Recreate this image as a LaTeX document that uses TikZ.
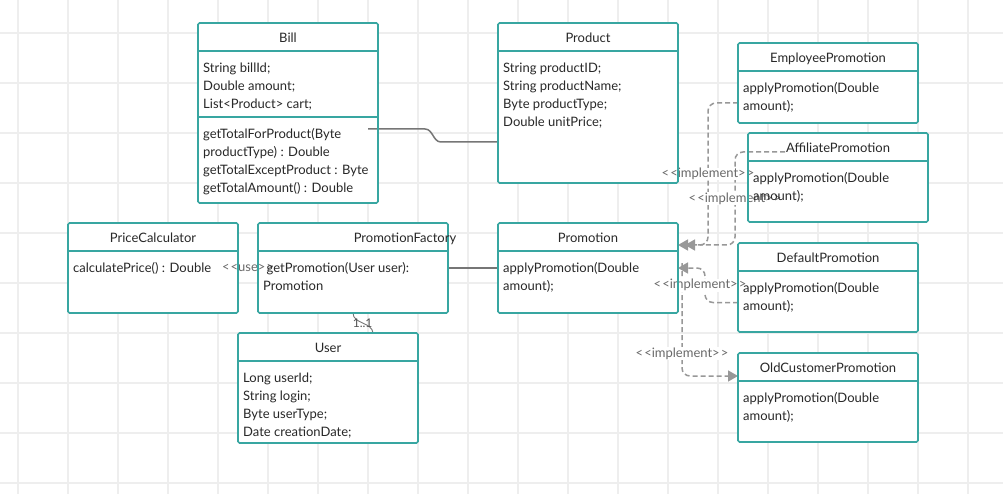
\documentclass[tikz,border=0pt]{standalone}
\usepackage{fontspec}
\setmainfont{Lato}
\usetikzlibrary{arrows.meta}
\definecolor{tl}{RGB}{56,166,161}
\definecolor{tx}{RGB}{40,40,40}
\definecolor{gg}{RGB}{238,238,238}
\definecolor{ln}{RGB}{118,118,118}
\definecolor{dl}{RGB}{152,152,152}
\definecolor{lb}{RGB}{105,105,105}
\pgfdeclarelayer{background}
\pgfdeclarelayer{edges}
\pgfsetlayers{background,edges,main}

\begin{document}
\begin{tikzpicture}[font=\fontsize{13}{18.3}\selectfont, text=tx,
  classbox/.style={rectangle, draw=tl, line width=1.6pt, rounded corners=1.5pt, anchor=north west, inner sep=0pt, outer sep=0pt},
  classline/.style={draw=tl, line width=1.6pt},
  classname/.style={inner sep=0pt, text height=9.4pt, text depth=0pt},
  members/.style={inner sep=0pt, anchor=north west, align=left},
  assoc/.style={draw=ln, line width=1.5pt},
  implement/.style={draw=dl, line width=1.5pt, dash pattern=on 5pt off 3pt, rounded corners=8pt, -{Triangle[length=10pt,width=11pt]}},
  stereo/.style={inner sep=0.5pt, fill=white, text=lb, font=\fontsize{13}{15}\selectfont},
  multlbl/.style={inner sep=0pt, text=tx!80, font=\fontsize{12}{14}\selectfont}]
\path [use as bounding box] (0pt,0pt) rectangle (1003pt,-494pt);
\begin{pgfonlayer}{background}
\fill [white] (0pt,0pt) rectangle (1003pt,-494pt);
\foreach \gx in {18,68,...,968} \draw [gg, line width=1.2pt] (\gx pt,0pt) -- (\gx pt,-494pt);
\foreach \gy in {33,83,...,483} \draw [gg, line width=1.2pt] (0pt,-\gy pt) -- (1003pt,-\gy pt);
\end{pgfonlayer}

% Bill
\node (bill) [classbox, minimum width=180pt, minimum height=180pt] at (198pt,-23pt) {};
\draw [classline] ([yshift=-28pt]bill.north west) -- ([yshift=-28pt]bill.north east);
\draw [classline] ([yshift=-94pt]bill.north west) -- ([yshift=-94pt]bill.north east);
\node (billname) [classname] at ([yshift=-14.5pt]bill.north) {Bill};
\node (billattr) [members] at ([xshift=5pt,yshift=-36pt]bill.north west) {\strut String billId;\\Double amount;\\List<Product> cart;};
\node (billops) [members] at ([xshift=5pt,yshift=-102pt]bill.north west) {\strut getTotalForProduct(Byte\\productType) : Double\\getTotalExceptProduct : Byte\\getTotalAmount() : Double};

% Product
\node (product) [classbox, minimum width=180pt, minimum height=160pt] at (498pt,-23pt) {};
\draw [classline] ([yshift=-28pt]product.north west) -- ([yshift=-28pt]product.north east);
\node (productname) [classname] at ([yshift=-14.5pt]product.north) {Product};
\node (productattr) [members] at ([xshift=5pt,yshift=-36pt]product.north west) {\strut String productID;\\String productName;\\Byte productType;\\Double unitPrice;};

% EmployeePromotion
\node (emp) [classbox, minimum width=180pt, minimum height=80pt] at (738pt,-43pt) {};
\draw [classline] ([yshift=-28pt]emp.north west) -- ([yshift=-28pt]emp.north east);
\node (empname) [classname] at ([yshift=-14.5pt]emp.north) {EmployeePromotion};
\node (empops) [members] at ([xshift=5pt,yshift=-36pt]emp.north west) {\strut applyPromotion(Double\\amount);};

% AffiliatePromotion
\node (aff) [classbox, minimum width=180pt, minimum height=89pt] at (748pt,-133pt) {};
\draw [classline] ([yshift=-28pt]aff.north west) -- ([yshift=-28pt]aff.north east);
\node (affname) [classname] at ([yshift=-14.5pt]aff.north) {AffiliatePromotion};
\node (affops) [members] at ([xshift=5pt,yshift=-36pt]aff.north west) {\strut applyPromotion(Double\\amount);};

% PriceCalculator
\node (pc) [classbox, minimum width=170pt, minimum height=90pt] at (68pt,-223pt) {};
\draw [classline] ([yshift=-28pt]pc.north west) -- ([yshift=-28pt]pc.north east);
\node (pcname) [classname] at ([yshift=-14.5pt]pc.north) {PriceCalculator};
\node (pcops) [members] at ([xshift=5pt,yshift=-36pt]pc.north west) {\strut calculatePrice() : Double};

% PromotionFactory
\node (pf) [classbox, minimum width=190pt, minimum height=90pt] at (258pt,-223pt) {};
\draw [classline] ([yshift=-28pt]pf.north west) -- ([yshift=-28pt]pf.north east);
\node (pfname) [classname] at ([xshift=52pt,yshift=-14.5pt]pf.north) {PromotionFactory};
\node (pfops) [members] at ([xshift=5pt,yshift=-36pt]pf.north west) {\strut\hspace{3.5pt}getPromotion(User user):\\Promotion};

% Promotion
\node (promo) [classbox, minimum width=180pt, minimum height=90pt] at (498pt,-223pt) {};
\draw [classline] ([yshift=-28pt]promo.north west) -- ([yshift=-28pt]promo.north east);
\node (promoname) [classname] at ([yshift=-14.5pt]promo.north) {Promotion};
\node (promoops) [members] at ([xshift=5pt,yshift=-36pt]promo.north west) {\strut applyPromotion(Double\\amount);};

% DefaultPromotion
\node (def) [classbox, minimum width=180pt, minimum height=89pt] at (738pt,-243pt) {};
\draw [classline] ([yshift=-28pt]def.north west) -- ([yshift=-28pt]def.north east);
\node (defname) [classname] at ([yshift=-14.5pt]def.north) {DefaultPromotion};
\node (defops) [members] at ([xshift=5pt,yshift=-36pt]def.north west) {\strut applyPromotion(Double\\amount);};

% User
\node (user) [classbox, minimum width=180pt, minimum height=110pt] at (238pt,-333pt) {};
\draw [classline] ([yshift=-28pt]user.north west) -- ([yshift=-28pt]user.north east);
\node (username) [classname] at ([yshift=-14.5pt]user.north) {User};
\node (userattr) [members] at ([xshift=5pt,yshift=-36pt]user.north west) {\strut Long userId;\\String login;\\Byte userType;\\Date creationDate;};

% OldCustomerPromotion
\node (old) [classbox, minimum width=180pt, minimum height=89pt] at (738pt,-353pt) {};
\draw [classline] ([yshift=-28pt]old.north west) -- ([yshift=-28pt]old.north east);
\node (oldname) [classname] at ([yshift=-14.5pt]old.north) {OldCustomerPromotion};
\node (oldops) [members] at ([xshift=5pt,yshift=-36pt]old.north west) {\strut applyPromotion(Double\\amount);};

\begin{pgfonlayer}{background}
\foreach \cls in {bill,product,emp,aff,pc,pf,promo,def,user,old}
  \fill [white] (\cls.north west) rectangle (\cls.south east);
\end{pgfonlayer}

% connectors
\begin{pgfonlayer}{edges}
\coordinate (billout) at (368pt,-129pt);
\draw [assoc] (billout) -- (425pt,-129pt) .. controls (433pt,-129pt) and (433pt,-142pt) .. (441pt,-142pt) -- ([yshift=-39pt]product.west);
\draw [assoc] (pf.east) -- (promo.west);
\draw [assoc, line width=0.9pt] (pf.south) to [out=-90,in=95] coordinate[pos=0.5] (multc) ([xshift=45pt]user.north);
\draw [implement] ([yshift=-20pt]emp.west) -- ++(-30pt,0pt) |- coordinate[pos=0.25] (impla) ([yshift=23pt]promo.east);
\draw [implement] ([xshift=37pt,yshift=-19pt]aff.north west) -- ++(-50pt,0pt) |- coordinate[pos=0.25] (implb) ([xshift=7pt,yshift=23pt]promo.east);
\draw [implement] ([yshift=-15pt]def.west) -- ++(-33pt,0pt) |- coordinate[pos=0.25] (implc) (promo.east);
\draw [implement] ([xshift=4pt,yshift=5pt]promo.east) |- coordinate[pos=0.4] (impld) ([yshift=21.5pt]old.west);
\path (pc.east) -- coordinate[pos=0.5] (usec) (pf.west);
\node (usel) [stereo] at (usec) {<\kern1pt<use>\kern1pt>};
\node (impal) [stereo] at (impla) {<\kern1pt<implement>\kern1pt>};
\node (impbl) [stereo] at (implb) {<\kern1pt<implement>\kern1pt>};
\node (impcl) [stereo, xshift=-5pt] at (implc) {<\kern1pt<implement>\kern1pt>};
\node (impdl) [stereo] at (impld) {<\kern1pt<implement>\kern1pt>};
\node (multl) [multlbl] at (multc) {1..1};
\end{pgfonlayer}
\end{tikzpicture}
\end{document}
